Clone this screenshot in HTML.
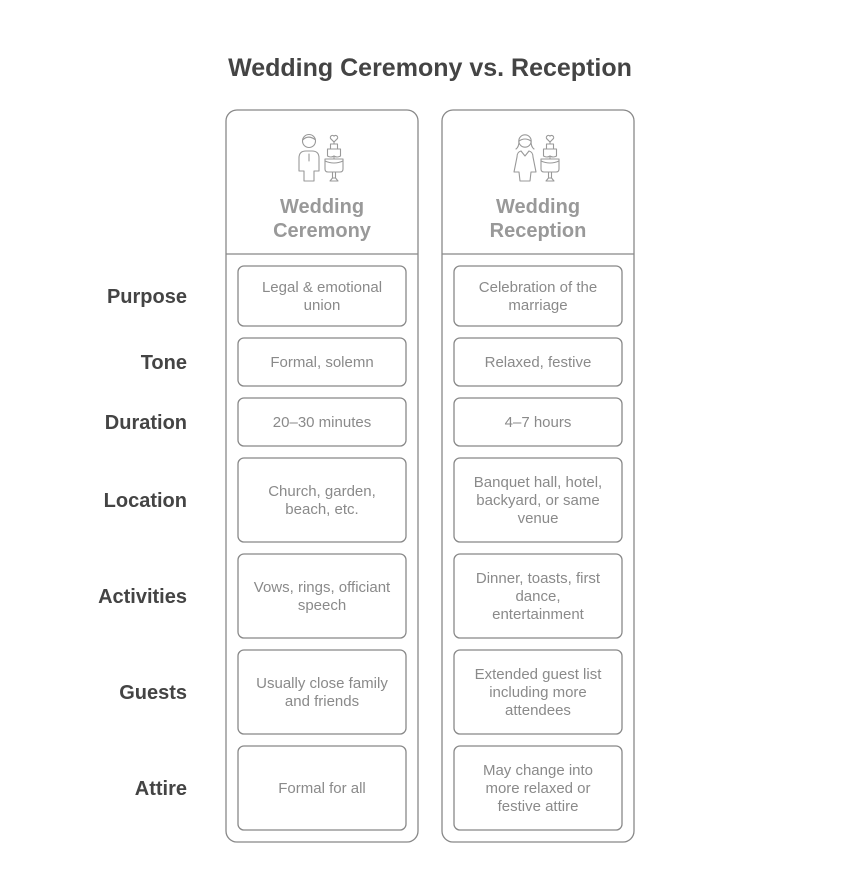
<!DOCTYPE html>
<html><head><meta charset="utf-8"><style>
html,body{margin:0;padding:0;background:#fff;}
svg{display:block;}
text{font-family:"Liberation Sans",Arial,sans-serif;}
.t{font-size:15px;fill:#8a8a8a;text-anchor:middle;}
.l{font-size:20px;font-weight:bold;fill:#444;text-anchor:end;}
.h{font-size:20px;font-weight:bold;fill:#999;text-anchor:middle;}
.b{fill:#fff;stroke:#888;stroke-width:1.3;}
.ic{fill:none;stroke:#999;stroke-width:1.1;stroke-linejoin:round;stroke-linecap:round;}
</style></head><body>
<svg width="864" height="888" viewBox="0 0 864 888" xmlns="http://www.w3.org/2000/svg">
<rect width="864" height="888" fill="#fff"/>
<text x="430" y="76" font-size="25" font-weight="bold" fill="#444" text-anchor="middle">Wedding Ceremony vs. Reception</text>

<!-- columns -->
<rect class="b" x="226" y="110" width="192" height="732" rx="11"/>
<line x1="226" y1="254" x2="418" y2="254" stroke="#888" stroke-width="1.3"/>
<rect class="b" x="442" y="110" width="192" height="732" rx="11"/>
<line x1="442" y1="254" x2="634" y2="254" stroke="#888" stroke-width="1.3"/>

<!-- icons: groom + cake -->
<g class="ic" transform="translate(322,0)">
  <circle cx="-13" cy="141" r="6.5"/>
  <path d="M-19.3 140 Q-14 134.5 -7 139.5"/>
  <path d="M-18 181 L-18 171 L-23 171 L-23 158 Q-23 151 -16 151 L-10 151 Q-3 151 -3 158 L-3 171 L-8 171 L-8 181 Z"/>
  <line x1="-13" y1="154" x2="-13" y2="161"/>
</g>
<g class="ic" transform="translate(322,0)">
  <path d="M12 142 L8.8 138.8 A2 2 0 0 1 12 136.2 A2 2 0 0 1 15.2 138.8 Z"/>
  <line x1="12" y1="142" x2="12" y2="144"/>
  <rect x="8.5" y="144" width="7" height="5"/>
  <path d="M5.5 149 L18.5 149 L18.5 156 Q15 158 12 156 Q9 158 5.5 156 Z"/>
  <line x1="12" y1="157" x2="12" y2="159"/>
  <path d="M3 159 L21 159 L21 169 Q21 172 18 172 L6 172 Q3 172 3 169 Z"/>
  <path d="M3 161 Q12 165 21 161"/>
  <line x1="10.5" y1="172" x2="10.5" y2="178"/>
  <line x1="13.5" y1="172" x2="13.5" y2="178"/>
  <path d="M8 181 L16 181 L13.5 178 L10.5 178 Z"/>
</g>
<!-- bride + cake -->
<g class="ic" transform="translate(538,0)">
  <circle cx="-13" cy="141" r="6.2"/>
  <path d="M-19 141 Q-13 137 -7 141"/>
  <path d="M-19 141 Q-19 147 -22 149"/>
  <path d="M-7 141 Q-7 147 -4 149"/>
  <path d="M-17 151 L-13 156 L-9 151"/>
  <path d="M-17 151 Q-21 152 -21 157 L-24 172 L-19 172 L-18 181 L-8 181 L-7 172 L-2 172 L-5 157 Q-5 152 -9 151"/>
</g>
<g class="ic" transform="translate(538,0)">
  <path d="M12 142 L8.8 138.8 A2 2 0 0 1 12 136.2 A2 2 0 0 1 15.2 138.8 Z"/>
  <line x1="12" y1="142" x2="12" y2="144"/>
  <rect x="8.5" y="144" width="7" height="5"/>
  <path d="M5.5 149 L18.5 149 L18.5 156 Q15 158 12 156 Q9 158 5.5 156 Z"/>
  <line x1="12" y1="157" x2="12" y2="159"/>
  <path d="M3 159 L21 159 L21 169 Q21 172 18 172 L6 172 Q3 172 3 169 Z"/>
  <path d="M3 161 Q12 165 21 161"/>
  <line x1="10.5" y1="172" x2="10.5" y2="178"/>
  <line x1="13.5" y1="172" x2="13.5" y2="178"/>
  <path d="M8 181 L16 181 L13.5 178 L10.5 178 Z"/>
</g>

<text class="h" x="322" y="213">Wedding</text>
<text class="h" x="322" y="237">Ceremony</text>
<text class="h" x="538" y="213">Wedding</text>
<text class="h" x="538" y="237">Reception</text>

<!-- row labels -->
<text class="l" x="187" y="303">Purpose</text>
<text class="l" x="187" y="369">Tone</text>
<text class="l" x="187" y="429">Duration</text>
<text class="l" x="187" y="507">Location</text>
<text class="l" x="187" y="603">Activities</text>
<text class="l" x="187" y="699">Guests</text>
<text class="l" x="187" y="795">Attire</text>

<!-- boxes col 1 -->
<rect class="b" x="238" y="266" width="168" height="60" rx="6"/>
<rect class="b" x="238" y="338" width="168" height="48" rx="6"/>
<rect class="b" x="238" y="398" width="168" height="48" rx="6"/>
<rect class="b" x="238" y="458" width="168" height="84" rx="6"/>
<rect class="b" x="238" y="554" width="168" height="84" rx="6"/>
<rect class="b" x="238" y="650" width="168" height="84" rx="6"/>
<rect class="b" x="238" y="746" width="168" height="84" rx="6"/>
<!-- boxes col 2 -->
<rect class="b" x="454" y="266" width="168" height="60" rx="6"/>
<rect class="b" x="454" y="338" width="168" height="48" rx="6"/>
<rect class="b" x="454" y="398" width="168" height="48" rx="6"/>
<rect class="b" x="454" y="458" width="168" height="84" rx="6"/>
<rect class="b" x="454" y="554" width="168" height="84" rx="6"/>
<rect class="b" x="454" y="650" width="168" height="84" rx="6"/>
<rect class="b" x="454" y="746" width="168" height="84" rx="6"/>

<!-- col 1 text -->
<text class="t" x="322" y="292">Legal &amp; emotional</text>
<text class="t" x="322" y="310">union</text>
<text class="t" x="322" y="367">Formal, solemn</text>
<text class="t" x="322" y="427">20–30 minutes</text>
<text class="t" x="322" y="496">Church, garden,</text>
<text class="t" x="322" y="514">beach, etc.</text>
<text class="t" x="322" y="592">Vows, rings, officiant</text>
<text class="t" x="322" y="610">speech</text>
<text class="t" x="322" y="688">Usually close family</text>
<text class="t" x="322" y="706">and friends</text>
<text class="t" x="322" y="793">Formal for all</text>

<!-- col 2 text -->
<text class="t" x="538" y="292">Celebration of the</text>
<text class="t" x="538" y="310">marriage</text>
<text class="t" x="538" y="367">Relaxed, festive</text>
<text class="t" x="538" y="427">4–7 hours</text>
<text class="t" x="538" y="487">Banquet hall, hotel,</text>
<text class="t" x="538" y="505">backyard, or same</text>
<text class="t" x="538" y="523">venue</text>
<text class="t" x="538" y="583">Dinner, toasts, first</text>
<text class="t" x="538" y="601">dance,</text>
<text class="t" x="538" y="619">entertainment</text>
<text class="t" x="538" y="679">Extended guest list</text>
<text class="t" x="538" y="697">including more</text>
<text class="t" x="538" y="715">attendees</text>
<text class="t" x="538" y="775">May change into</text>
<text class="t" x="538" y="793">more relaxed or</text>
<text class="t" x="538" y="811">festive attire</text>
</svg>
</body></html>
